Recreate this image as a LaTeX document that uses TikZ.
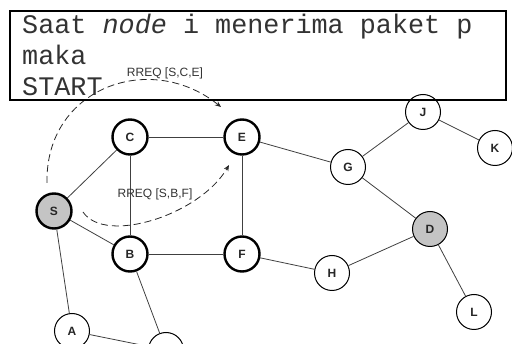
\documentclass[tikz,border=0pt]{standalone}
\usepackage{fontspec}
\newfontfamily\monof{Liberation Mono}
\newfontfamily\arialf{Liberation Sans}
\usetikzlibrary{arrows.meta}
\definecolor{edgegray}{HTML}{404040}
\definecolor{hostgray}{HTML}{C4C4C4}
\tikzset{
  host/.style={circle, draw=black, fill=white, line width=1pt, minimum size=35pt,
    inner sep=0pt, font=\arialf\bfseries\fontsize{12}{14}\selectfont, text=black!85},
  visited/.style={host, line width=2.4pt},
  endpoint/.style={fill=hostgray},
  link/.style={draw=edgegray, line width=0.8pt},
  rreq/.style={draw=black!85, line width=0.8pt, dash pattern=on 7pt off 4pt,
    -{Stealth[length=6pt,width=5pt]}},
  rreqlabel/.style={font=\arialf\fontsize{12}{14}\selectfont, text=black!80, inner sep=0pt},
  codeline/.style={anchor=base west, inner sep=0pt, text=black!80,
    font=\monof\fontsize{26.8}{31}\selectfont}
}
\begin{document}
\begin{tikzpicture}[x=1pt, y=-1pt]
\useasboundingbox (0,0) rectangle (512,344);
\clip (0,0) rectangle (512,344);

% hosts
\node[visited] (C) at (130,137) {C};
\node[visited] (E) at (242,137) {E};
\node[visited, endpoint] (S) at (54,211) {S};
\node[visited] (B) at (130,254) {B};
\node[visited] (F) at (242,254) {F};
\node[host] (A) at (72,331) {A};
\node[host] (N) at (166,350) {};
\node[host] (G) at (348,167) {G};
\node[host] (J) at (423,112) {J};
\node[host] (K) at (495,148) {K};
\node[host, endpoint] (D) at (430,229) {D};
\node[host] (H) at (332,273) {H};
\node[host] (L) at (474,312) {L};

% links
\draw[link] (S) -- (C);
\draw[link] (S) -- (B);
\draw[link] (S) -- (A);
\draw[link] (C) -- (E);
\draw[link] (C) -- (B);
\draw[link] (E) -- (F);
\draw[link] (B) -- (F);
\draw[link] (E) -- (G);
\draw[link] (F) -- (H);
\draw[link] (G) -- (J);
\draw[link] (J) -- (K);
\draw[link] (G) -- (D);
\draw[link] (D) -- (H);
\draw[link] (D) -- (L);
\draw[link] (A) -- (N);
\draw[link] (B) -- (N);

% route request flooding
\coordinate (up0) at (47,183);
\coordinate (up1) at (221,107);
\coordinate (lo0) at (83,212);
\coordinate (lo1) at (229,165);
\draw[rreq] (up0) .. controls (45,88) and (150,50) .. (up1);
\draw[rreq] (lo0) .. controls (105,245) and (200,215) .. (lo1);
\node[rreqlabel] (l1) at (165,73) {RREQ [S,C,E]};
\node[rreqlabel] (l2) at (155,194) {RREQ [S,B,F]};

% caption box
\node[draw=black, line width=2pt, inner sep=0pt, minimum width=496pt, minimum height=89pt,
  anchor=north west] (box) at (9,10) {};
\node[codeline] (t1) at (22,34) {Saat \textit{node} i menerima paket p};
\node[codeline] (t2) at (22,65) {maka};
\node[codeline] (t3) at (22,95.5) {START};
\end{tikzpicture}
\end{document}
